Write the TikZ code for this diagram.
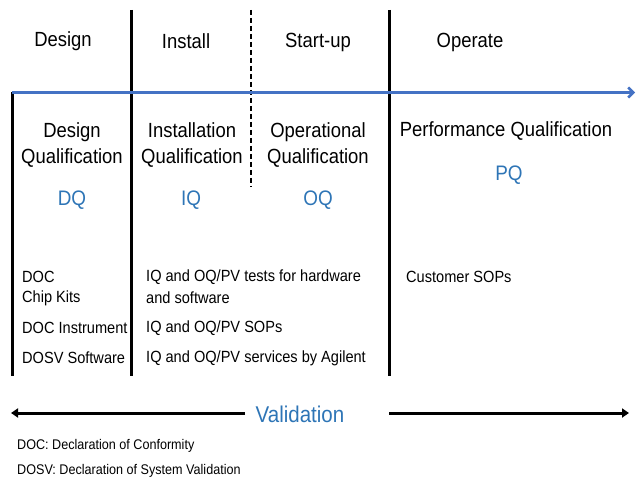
\documentclass[tikz,border=0pt]{standalone}
\usepackage{fontspec}
\setmainfont{Liberation Sans}[FakeStretch=0.9]
\usetikzlibrary{arrows.meta}
\definecolor{qblue}{RGB}{46,117,182}
\definecolor{lblue}{RGB}{68,114,196}
\tikzset{
  head/.style={font=\fontsize{20.5}{26}\selectfont, align=center, inner sep=0pt},
  code/.style={font=\fontsize{21}{24}\selectfont, text=qblue, inner sep=0pt},
  body/.style={font=\fontsize{16.2}{19}\selectfont, anchor=west, inner sep=0pt},
  foot/.style={font=\fontsize{14}{16}\selectfont, anchor=west, inner sep=0pt},
  divider/.style={line width=3pt, black},
  dashdiv/.style={line width=2pt, black, dash pattern=on 5pt off 3pt},
  timeline/.style={line width=3pt, lblue, -{Straight Barb[length=5pt,width=10pt,line width=2.5pt]}},
  valarrow/.style={line width=3pt, black, -{Triangle[length=7pt,width=9pt]}}
}
\begin{document}
\begin{tikzpicture}[x=1pt,y=-1pt]
\useasboundingbox (0,0) rectangle (636,478);
% coordinates
\coordinate (tlstart) at (12,92.5);
\coordinate (tlend) at (635,92.5);
\coordinate (d0top) at (12,92);
\coordinate (d0bot) at (12,376);
\coordinate (d1top) at (131,10);
\coordinate (d1bot) at (131,376);
\coordinate (d2top) at (251,10);
\coordinate (d2bot) at (251,187);
\coordinate (d3top) at (389,10);
\coordinate (d3bot) at (389,376);
\coordinate (vlend) at (11,413);
\coordinate (vrstart) at (389,413);
\coordinate (vrend) at (629,413);
% dividers
\draw[divider] (d0top) -- (d0bot);
\draw[divider] (d1top) -- (d1bot);
\draw[dashdiv] (d2top) -- (d2bot);
\draw[divider] (d3top) -- (d3bot);
\draw[timeline] (tlstart) -- (tlend);
% phase headers
\node[head] (ph1) at (63,41) {Design};
\node[head] (ph2) at (186,41) {Install};
\node[head] (ph3) at (318,42) {Start-up};
\node[head] (ph4) at (470,42) {Operate};
% qualification titles
\node[head] (q1) at (72,145) {Design\\Qualification};
\node[head] (q2) at (192,145) {Installation\\Qualification};
\node[head] (q3) at (318,145) {Operational\\Qualification};
\node[head] (q4) at (506,131) {Performance Qualification};
\node[code] (c1) at (72,200) {DQ};
\node[code] (c2) at (191,200) {IQ};
\node[code] (c3) at (318,200) {OQ};
\node[code] (c4) at (509,175) {PQ};
% body text
\node[body] (b1) at (22,277) {DOC};
\node[body] (b2) at (22,298) {Chip Kits};
\node[body] (b3) at (22,328) {DOC Instrument};
\node[body] (b4) at (22,358) {DOSV Software};
\node[body] (b5) at (146,277) {IQ and OQ/PV tests for hardware};
\node[body] (b6) at (146,298) {and software};
\node[body] (b7) at (146,328) {IQ and OQ/PV SOPs};
\node[body] (b8) at (146,358) {IQ and OQ/PV services by Agilent};
\node[body] (b9) at (406,277) {Customer SOPs};
% validation
\node[code, font=\fontsize{22.8}{26}\selectfont] (val) at (300,414) {Validation};
\coordinate (vlstart) at (245,413);
\draw[valarrow] (vlstart) -- (vlend);
\draw[valarrow] (vrstart) -- (vrend);
% footnotes
\node[foot] (f1) at (17,446) {DOC: Declaration of Conformity};
\node[foot] (f2) at (17,471) {DOSV: Declaration of System Validation};
\end{tikzpicture}
\end{document}
